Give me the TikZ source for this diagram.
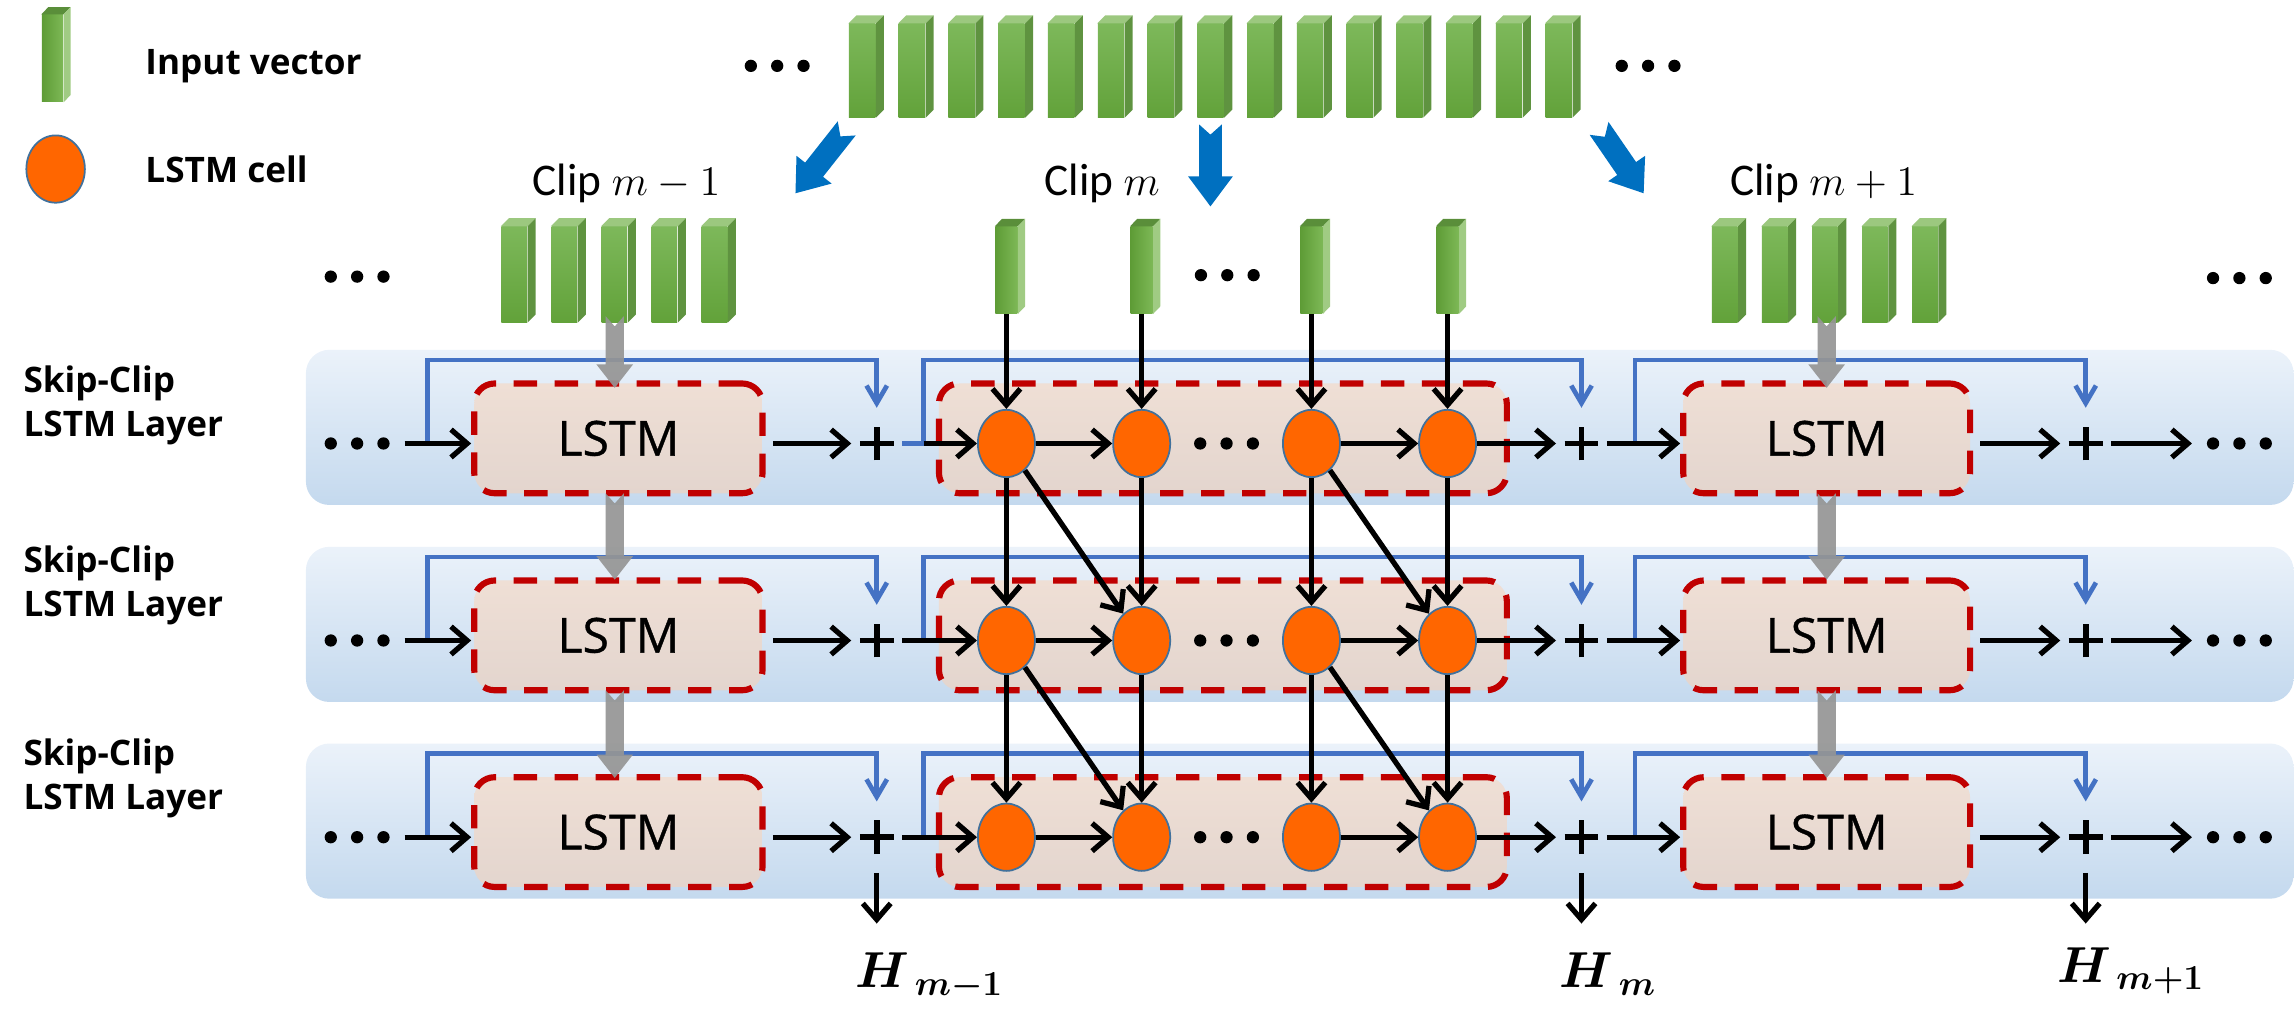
\documentclass[tikz,border=0pt]{standalone}
\usepackage{fontspec}
\setmainfont{Open Sans}
\newfontfamily\clipfont{Carlito}
\newfontfamily\lstmfont[FakeBold=0.7]{Open Sans}
\usepackage{bm}
\usetikzlibrary{shapes.geometric,arrows.meta,calc}
\definecolor{cellor}{HTML}{FF6600}
\definecolor{cellbd}{HTML}{41719C}
\definecolor{skipblue}{HTML}{4472C4}
\definecolor{bigblue}{HTML}{0070C0}
\definecolor{dashred}{HTML}{C00000}
\definecolor{boxtop}{HTML}{EFDFD5}
\definecolor{boxbot}{HTML}{E3D5CE}
\definecolor{bandtop}{HTML}{EBF2FA}
\definecolor{bandbot}{HTML}{C4D9EE}
\definecolor{gfrontT}{HTML}{7DB85A}
\definecolor{gfrontB}{HTML}{62A23A}
\definecolor{gtopA}{HTML}{9CC87F}
\definecolor{gsideA}{HTML}{5F9340}
\definecolor{gfrontL}{HTML}{5E9C36}
\definecolor{gfrontR}{HTML}{7DB856}
\definecolor{gtopB}{HTML}{5A8E3A}
\definecolor{gsideB}{HTML}{A0CB83}
\definecolor{grayarrc}{HTML}{959595}
\tikzset{
  band/.style={rounded corners=8pt, top color=bandtop, bottom color=bandbot, draw=none},
  lstmbox/.style={draw=dashred, line width=2.1pt, dash pattern=on 8pt off 6pt,
    rounded corners=7pt, top color=boxtop, bottom color=boxbot,
    minimum height=37.5pt, inner sep=0pt, font=\lstmfont\fontsize{16.5}{19}\selectfont},
  cell/.style={ellipse, fill=cellor, draw=cellbd, line width=0.6pt,
    minimum width=19.5pt, minimum height=23pt, inner sep=0pt},
  arr/.style={-{Straight Barb[length=5.5pt,width=9.5pt]}, line width=1.8pt, black},
  skip/.style={-{Straight Barb[length=6pt,width=7pt]}, line width=1.6pt, skipblue, shorten >=6pt},
  plusnode/.style={minimum width=17pt, minimum height=12pt, inner sep=0pt},
  dotsnode/.style={minimum width=22pt, minimum height=4pt, inner sep=0pt},
  barA/.style={draw=none, top color=gfrontT, bottom color=gfrontB, inner sep=0pt},
  barB/.style={draw=none, left color=gfrontL, right color=gfrontR, inner sep=0pt},
  legtext/.style={font=\bfseries\fontsize{12}{15}\selectfont, inner sep=0pt},
  cliptext/.style={font=\clipfont\fontsize{15.5}{18}\selectfont, inner sep=0pt},
  htext/.style={font=\fontsize{17}{20}\selectfont, inner sep=0pt}
}
\newcommand\gbarA[5]{%
  \node[barA, minimum width=#5, minimum height={(#4-#3)*0.5pt}] (#1) at ({#2},{(#3+#4)/2}) {};
  \fill[gtopA] (#1.north west) -- ++(5.5,-5.5) -- ($(#1.north east)+(5.5,-5.5)$) -- (#1.north east) -- cycle;
  \fill[gsideA] (#1.north east) -- ++(5.5,-5.5) -- ($(#1.south east)+(5.5,-5.5)$) -- (#1.south east) -- cycle;
}
\newcommand\gbarB[5]{%
  \node[barB, minimum width=#5, minimum height={(#4-#3)*0.5pt}] (#1) at ({#2},{(#3+#4)/2}) {};
  \fill[gtopB] (#1.north west) -- ++(4.8,-5) -- ($(#1.north east)+(4.8,-5)$) -- (#1.north east) -- cycle;
  \fill[gsideB] (#1.north east) -- ++(4.8,-5) -- ($(#1.south east)+(4.8,-5)$) -- (#1.south east) -- cycle;
}
\newcommand\grayarr[3]{%
  \fill[grayarrc, opacity=0.92] ({#1-6.25},{#2}) -- ({#1},{#2+7}) -- ({#1+6.25},{#2}) -- ({#1+6.25},{#3-16})
    -- ({#1+12.5},{#3-16}) -- ({#1},{#3}) -- ({#1-12.5},{#3-16}) -- ({#1-6.25},{#3-16}) -- cycle;
}
\newcommand\bigarrow[4]{%
  \begin{scope}[shift={(#1,#2)}, rotate=#3]
    \fill[bigblue] (0,-7.8) -- ({#4-20.5},-7.8) -- ({#4-20.5},-15.3) -- (#4,0) -- ({#4-20.5},15.3)
      -- ({#4-20.5},7.8) -- (0,7.8) -- (7,0) -- cycle;
  \end{scope}
}
\begin{document}
\begin{tikzpicture}[x=0.5pt,y=-0.5pt]
\useasboundingbox (0,0) rectangle (1568,700);
% bands
\foreach \r in {303,437.6,572} \path[band] (209,{\r-64}) rectangle (1567,{\r+42});
% boxes, plus, dots, skip lines
\foreach \L/\r in {1/303,2/437.6,3/572}{
  \node[lstmbox, minimum width=98.5pt] (bxl\L) at (422.5,{\r-3.5}) {LSTM};
  \node[lstmbox, minimum width=194pt] (bxm\L) at (835.5,{\r-3.5}) {};
  \node[lstmbox, minimum width=98pt] (bxr\L) at (1248,{\r-3.5}) {LSTM};
  \node[plusnode] (pl\L) at (599,\r) {};
  \node[plusnode] (pm\L) at (1080.5,\r) {};
  \node[plusnode] (pr\L) at (1425,\r) {};
  \node[dotsnode] (dl\L) at (244,\r) {};
  \node[dotsnode] (dc\L) at (838,\r) {};
  \node[dotsnode] (dr\L) at (1530,\r) {};
  \coordinate (sl\L) at (292,\r);
  \coordinate (sm\L) at (631,\r);
  \coordinate (sr\L) at (1117,\r);
  \draw[skip] (sl\L) -- ++(0,-57) -| (pl\L.north);
  \draw[skip] (sr\L) -- ++(0,-57) -| (pr\L.north);
}
\draw[skip] (pl1.east) -- (sm1) -- ++(0,-57) -| (pm1.north);
\draw[skip] (sm2) -- ++(0,-57) -| (pm2.north);
\draw[skip] (sm3) -- ++(0,-57) -| (pm3.north);
% other dots
\node[dotsnode] (dt1) at (531,45) {};
\node[dotsnode] (dt2) at (1126,45) {};
\node[dotsnode] (dm0) at (244,189) {};
\node[dotsnode] (dm1) at (838.5,188) {};
\node[dotsnode] (dm2) at (1530,190) {};
\foreach \n in {dl1,dl2,dl3,dc1,dc2,dc3,dr1,dr2,dr3,dt1,dt2,dm0,dm1,dm2}
  \fill ([xshift=-9pt]\n.center) circle (2.1pt) (\n.center) circle (2.1pt) ([xshift=9pt]\n.center) circle (2.1pt);
\foreach \n in {pl1,pl2,pl3,pm1,pm2,pm3,pr1,pr2,pr3}
  \draw[line width=2pt] ([xshift=-5.8pt]\n.center) -- ([xshift=5.8pt]\n.center)
    ([yshift=-5.8pt]\n.center) -- ([yshift=5.8pt]\n.center);
% bars
\foreach \i in {0,...,14} {\gbarA{t\i}{589+34*\i}{16.4}{80}{9pt}}
\foreach \i in {1,...,5} {\gbarA{a\i}{351.35+34.2*(\i-1)}{155}{220}{8.75pt}}
\foreach \i in {1,...,5} {\gbarA{z\i}{1178.35+34.2*(\i-1)}{155}{220}{8.75pt}}
\gbarB{vm1}{687.6}{155}{214}{7.5pt}
\gbarB{vm2}{780}{155}{214}{7.5pt}
\gbarB{vm3}{896}{155}{214}{7.5pt}
\gbarB{vm4}{989}{155}{214}{7.5pt}
\gbarB{legbar}{35.85}{10.2}{69.5}{7.2pt}
% gray arrows
\grayarr{420}{216}{265}
\grayarr{420}{337}{396}
\grayarr{420}{471.6}{531.5}
\grayarr{1248}{216}{265}
\grayarr{1248}{337}{396}
\grayarr{1248}{471.6}{531.5}
% cells
\foreach \L/\r in {1/303,2/437.6,3/572}
  \foreach \i/\x in {1/687.6,2/780,3/896,4/989}
    \node[cell] (c\L\i) at (\x,\r) {};
\node[cell, minimum width=20pt, minimum height=23pt] (legcell) at (38,115.5) {};
% black arrows within layers
\foreach \L in {1,2,3}{
  \draw[arr, shorten <=5pt] (dl\L.east) -- (dl\L.east -| bxl\L.west);
  \draw[arr, shorten <=2.5pt] (bxl\L.east |- pl\L) -- (pl\L.west);
  \draw[arr] (c\L1) -- (c\L2);
  \draw[arr] (c\L3) -- (c\L4);
  \draw[arr] (c\L4) -- (pm\L.west);
  \draw[arr] (pm\L.east) -- (pm\L.east -| bxr\L.west);
  \draw[arr, shorten <=2.5pt] (bxr\L.east |- pr\L) -- (pr\L.west);
  \draw[arr, shorten >=5pt] (pr\L.east) -- (dr\L.west);
}
\draw[arr] (sm1) -- (c11);
\draw[arr] (pl2.east) -- (c21);
\draw[arr] (pl3.east) -- (c31);
% inputs
\foreach \i in {1,2,3,4} \draw[arr] (vm\i) -- (c1\i);
% between layers
\foreach \L/\M in {1/2,2/3}{
  \foreach \i in {1,2,3,4} \draw[arr] (c\L\i) -- (c\M\i);
  \draw[arr] (c\L1) -- (c\M2);
  \draw[arr] (c\L3) -- (c\M4);
}
% outputs
\coordinate (o1) at (599,631);
\coordinate (o2) at (1080.5,631);
\coordinate (o3) at (1425,631);
\draw[arr, shorten <=6pt] (pl3.south) -- (o1);
\draw[arr, shorten <=6pt] (pm3.south) -- (o2);
\draw[arr, shorten <=6pt] (pr3.south) -- (o3);
\node[htext, anchor=base west] (h1) at (584,675) {$\bm{H}_{\;\bm{m-1}}$};
\node[htext, anchor=base west] (h2) at (1065,675) {$\bm{H}_{\;\bm{m}}$};
\node[htext, anchor=base west] (h3) at (1405,671) {$\bm{H}_{\;\bm{m+1}}$};
% texts
\node[legtext, anchor=base west] (lt1) at (99,51) {Input vector};
\node[legtext, anchor=base west] (lt2) at (99,125) {LSTM cell};
\node[legtext, anchor=west, align=left] (ly1) at (15.7,277) {Skip-Clip\\LSTM Layer};
\node[legtext, anchor=west, align=left] (ly2) at (15.7,400) {Skip-Clip\\LSTM Layer};
\node[legtext, anchor=west, align=left] (ly3) at (15.7,532) {Skip-Clip\\LSTM Layer};
\node[cliptext] (cl1) at (428,125) {Clip $m-1$};
\node[cliptext] (cl2) at (753,125) {Clip $m$};
\node[cliptext] (cl3) at (1246,125) {Clip $m+1$};
% big blue arrows
\bigarrow{578.5}{87.7}{-128.3}{56.5}
\bigarrow{827}{85}{-90}{56}
\bigarrow{1092.5}{87.7}{-55.5}{53.8}
\end{tikzpicture}
\end{document}
